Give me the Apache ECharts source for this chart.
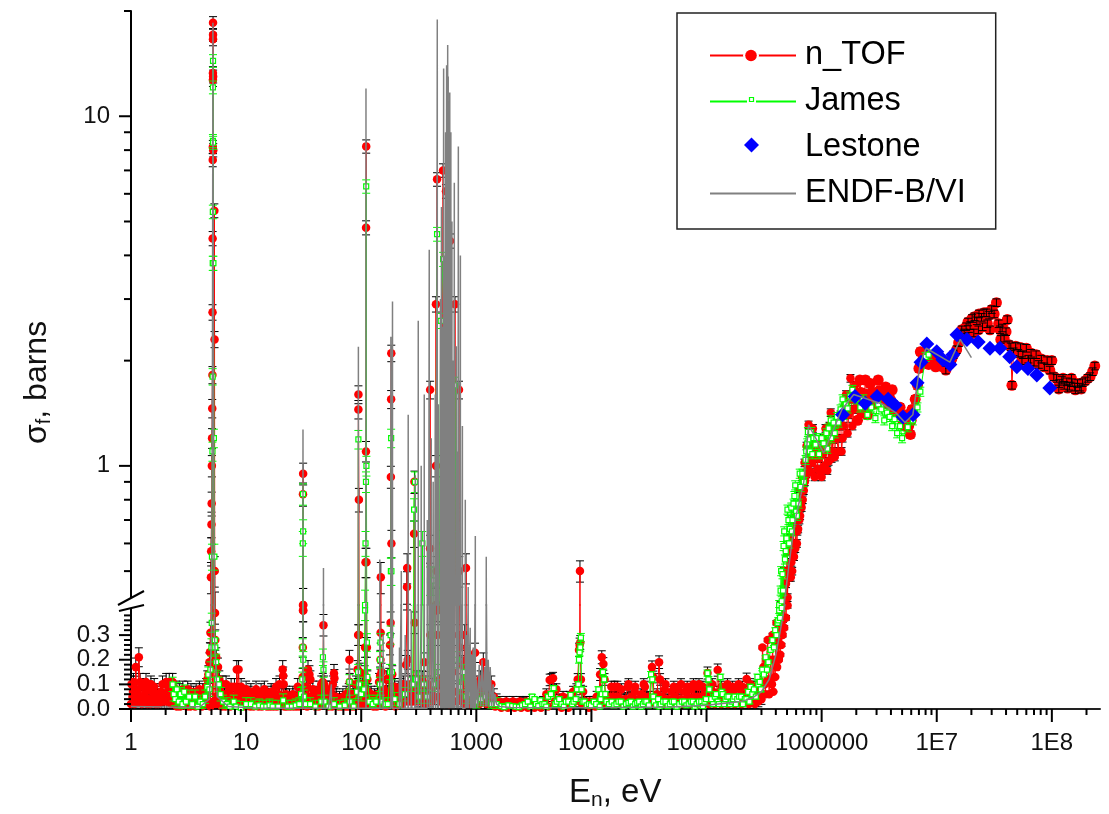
<!DOCTYPE html>
<html>
<head>
<meta charset="utf-8">
<title>Fission cross section</title>
<script src="https://cdn.jsdelivr.net/npm/echarts@6/dist/echarts.min.js"></script>
<style>
    html, body { margin: 0; padding: 0; background: #fff; }
    #chart { width: 1109px; height: 814px; }
</style>
</head>
<body>
<div id="chart"></div>
<script>
// values: [E in eV, sigma in barns]
var ntofBand = [
    [1,.02],[1.01,.1],[1.03,.05],[1.05,.11],[1.07,.02],[1.1,.17],[1.12,.08],[1.17,.21],[1.2,.11],[1.22,.03],[1.26,.09],[1.3,.05],[1.35,.11],[1.39,.02],[1.44,.08],[1.49,.1],[1.54,.04],[1.59,.09],[1.65,.02],[1.7,.06],[1.76,.03],[1.82,.07],[1.88,.1],[1.95,.03],[2.02,.11],[2.08,.06],[2.15,.11],[2.23,.02],[2.3,.11],[2.38,.05],[2.46,.08],[2.55,.02],[2.63,.07],[2.72,.04],[2.82,.08],[2.91,.02],[3.01,.06],[3.11,.08],[3.22,.03],[3.32,.07],[3.44,.05],[3.55,.02],[3.68,.07],[3.8,.04],[3.93,.08],[4.06,.02],[4.2,.07],[4.34,.05],[4.5,.09]
];
var ntofPeak5eV = [
    [4.6,.12],[4.7,.14],[4.8,.19],[4.85,.23],[4.9,.31],[4.95,.48],[4.97,.57],[5,.68],[5.02,.78],[5.04,1],[5.06,1.2],[5.08,1.46],[5.1,1.82],[5.11,2.75],[5.12,4.47],[5.13,7.5],[5.14,8.17],[5.15,12.7],[5.15,13.3],[5.16,16.6],[5.16,17.1],[5.16,18.5],[5.17,13],[5.18,8],[5.3,5.37],[5.32,2.3],[5.34,.5],[5.37,.39],[5.4,.28],[5.5,.21],[5.7,.17],[5.85,.12],[6.06,.03],[6.25,.1],[6.48,.06],[6.7,.1],[6.93,.02],[7.15,.07],[7.41,.09],[7.65,.04],[7.92,.09],[8.3,.16],[8.6,.16],[8.8,.04],[9.05,.09],[9.4,.06],[9.68,.02]
];
var ntofTo100 = [
    [10,.08],[10.4,.04],[10.7,.02],[11,.07],[11.4,.05],[11.8,.02],[12.2,.08],[12.6,.05],[13,.02],[13.5,.07],[13.9,.04],[14.4,.08],[14.9,.02],[15.4,.06],[15.9,.03],[16.5,.07],[17,.02],[17.6,.06],[18.2,.09],[18.8,.03],[19.5,.1],[20.8,.16],[21,.135],[21.2,.1],[21.8,.03],[22.3,.06],[23,.02],[23.8,.05],[24.6,.03],[25.5,.06],[26.3,.02],[27.2,.05],[28.1,.09],[29,.03],[30,.06],[30.5,.04],[31,.13],[31.1,.25],[31.2,.4],[31.2,.83],[31.3,.95],[31.4,.4],[31.6,.13],[32.5,.05],[33.3,.09],[34.5,.16],[35.5,.14],[36.2,.12],[37,.05],[38,.08],[39.3,.03],[40.6,.06],[42,.02],[43.4,.08],[45,.1],[46.4,.11],[47,.34],[47.5,.1],[48.6,.05],[49.6,.08],[51.3,.02],[53,.08],[55,.04],[56.7,.1],[58,.145],[58.5,.125],[60.6,.05],[62.6,.02],[64.8,.04],[67,.02],[69.3,.05],[71.6,.03],[74,.06],[76,.03],[78,.07],[79,.2],[79.5,.11],[82,.03],[84.7,.06],[87.5,.02],[90,.1],[93,.16],[94,.3],[94.5,1.45],[94.6,1.6],[95.5,.8],[96,.3],[97,.15],[98,.08]
];
var ntofTo1500 = [
    [100,.04],[103,.1],[105,.06],[107,.14],[108,.25],[109,.53],[110,1.1],[110.2,4.8],[110.5,8.2],[111,.53],[112,.25],[113,.12],[115,.07],[118,.03],[122,.06],[126,.02],[130,.05],[134,.03],[139,.06],[143,.11],[146,.135],[147,.2],[147.5,.31],[148,.48],[150,.15],[152,.05],[156,.08],[160,.03],[165,.12],[170,.05],[175,.13],[178,.26],[180,.35],[181,.93],[182,1.55],[182.5,2.1],[183,.6],[186,.14],[190,.05],[195,.09],[202,.03],[210,.08],[225,.05],[232,.1],[245,.18],[250,.45],[251,.51],[254,.2],[265,.07],[280,.1],[288,.64],[290,.9],[292,.35],[300,.08],[320,.1],[345,.04],[354,.19],[370,.05],[396,.58],[397,1.65],[399,.3],[420,.09],[445,.4],[446,2.9],[447,1],[452,.5],[456,6.6],[460,.3],[480,.12],[500,.4],[514,7],[520,.6],[545,6.1],[550,.9],[570,.2],[591,4.4],[600,.5],[625,.15],[653,2.9],[660,.7],[700,.3],[707,1.65],[712,.5],[720,.25],[750,.18],[790,.3],[813,.51],[820,.2],[860,.09],[905,.15],[975,.228],[990,.1],[1040,.07],[1090,.12],[1140,.08],[1150,.19],[1200,.09],[1270,.05],[1350,.1],[1420,.05],[1500,.03]
];
var ntofTo3e5 = [
    [1590,.03],[1700,.02],[1820,.03],[1950,.02],[2080,.03],[2230,.02],[2380,.03],[2550,.025],[2720,.03],[2910,.02],[3110,.03],[3320,.025],[3550,.02],[3800,.03],[4060,.06],[4340,.118],[4500,.12],[4640,.125],[4960,.08],[5310,.04],[5670,.05],[6060,.03],[6480,.05],[6930,.07],[7400,.08],[7600,.12],[7800,.24],[7900,.26],[7950,.5],[8000,.27],[8100,.12],[8470,.07],[9050,.03],[9680,.03],[10400,.03],[11100,.05],[11900,.14],[12300,.21],[12700,.183],[13000,.12],[13900,.05],[14900,.09],[15900,.09],[17000,.05],[18200,.08],[19500,.04],[20800,.09],[22300,.05],[23800,.07],[25500,.04],[27200,.06],[29100,.09],[31100,.05],[33600,.17],[34500,.13],[36000,.05],[38700,.19],[39500,.12],[41000,.05],[43400,.08],[46400,.04],[49600,.07],[53100,.05],[56700,.08],[60600,.04],[64800,.07],[69300,.05],[74100,.08],[79200,.05],[84700,.09],[90500,.04],[96800,.07],[102000,.146],[108000,.05],[114000,.07],[125000,.158],[130000,.07],[139000,.04],[149000,.08],[159000,.05],[170000,.07],[182000,.04],[195000,.08],[208000,.05],[223000,.122],[228000,.07],[238000,.05],[255000,.09],[272000,.05],[291000,.07]
];
var ntofRise = [
    [298000,.11],[306000,.25],[313000,.17],[320000,.1],[332000,.2],[340000,.28],[345000,.12],[360000,.2],[375000,.3],[385000,.2],[398000,.27],[405000,.35],[420000,.28],[430000,.33],[440000,.4],[450000,.33],[460000,.36],[470000,.5],[480000,.42],[490000,.46],[500000,.57],[510000,.5],[530000,.62],[545000,.53],[560000,.57],[570000,.7],[580000,.6],[600000,.72],[615000,.65],[630000,.75],[645000,.86],[660000,.78],[675000,.93],[690000,.85],[710000,1.02],[725000,.93],[740000,1.14],[755000,1.02],[770000,1.31],[790000,1.12],[810000,1.2],[830000,1.02],[850000,1.1],[885000,1.06],[920000,.98],[950000,1.05],[980000,.96],[1020000,1.08],[1060000,1],[1100000,1.15],[1150000,1.03],[1200000,1.42],[1240000,1.1],[1270000,1.19],[1330000,1.3],[1400000,1.1],[1460000,1.4],[1520000,1.2],[1600000,1.5],[1680000,1.24],[1780000,1.78],[1850000,1.3],[1950000,1.7],[2050000,1.35],[2150000,1.76],[2250000,1.42],[2400000,1.76],[2500000,1.4],[2650000,1.72],[2800000,1.5],[3100000,1.76],[3300000,1.55],[3600000,1.68],[3800000,1.5],[4100000,1.65],[4300000,1.42],[4800000,1.47],[5100000,1.32],[5500000,1.4],[5900000,1.23],[6100000,1.45],[6500000,1.55],[6800000,1.7],[7000000,1.9],[7200000,2.12]
];
var ntofHigh = [
    [7600000,2.02],[8000000,2.1],[8500000,1.95],[9200000,2.05],[9800000,1.92],[10400000,2],[11300000,1.92],[12000000,1.88],[12800000,1.95],[13500000,2.02],[14000000,2.08],[14900000,2.15],[15500000,2.25],[16000000,2.38],[16500000,2.45],[17300000,2.4],[18000000,2.5],[18700000,2.58],[19500000,2.52],[20300000,2.64],[21300000,2.67],[22300000,2.6],[23300000,2.72],[24500000,2.66],[25700000,2.74],[27000000,2.74],[28500000,2.7],[30000000,2.8],[31500000,2.72],[33000000,2.93],[34500000,2.55],[35500000,2.45],[37000000,2.48],[38500000,2.32],[40000000,2.42],[41000000,2.62],[42500000,2.22],[44000000,2.19],[45000000,1.7],[46500000,2.12],[48500000,2.2],[51000000,2.1],[53500000,2.18],[56000000,2.08],[60000000,2.17],[62500000,2.02],[66000000,2.1],[70000000,1.98],[73000000,2.08],[77000000,1.95],[81000000,2.02],[86000000,1.92],[91000000,2],[96000000,1.88],[100000000,2],[104000000,1.8],[110000000,1.78],[116000000,1.72],[122000000,1.76],[128000000,1.7],[135000000,1.74],[142000000,1.69],[150000000,1.73],[158000000,1.68],[167000000,1.72],[175000000,1.68],[185000000,1.73],[195000000,1.75],[205000000,1.78],[215000000,1.8],[226000000,1.86],[236000000,1.93]
];
// lower points of the dense n_TOF band, merged by energy below
var ntofFillTo10 = [
    [1.04,.07],[1.08,.04],[1.15,.06],[1.24,.02],[1.33,.07],[1.41,.04],[1.47,.02],[1.56,.07],[1.62,.05],[1.73,.02],[1.79,.045],[1.85,.03],[1.98,.06],[2.05,.03],[2.12,.08],[2.2,.05],[2.27,.08],[2.34,.02],[2.42,.03],[2.5,.01],[2.59,.04],[2.67,.01],[2.77,.05],[2.87,.03],[2.96,.05],[3.06,.01],[3.16,.04],[3.27,.01],[3.38,.03],[3.5,.06],[3.61,.01],[3.74,.04],[3.86,.02],[4,.05],[4.13,.01],[4.27,.04],[4.42,.02],[4.55,.04],[4.75,.02],[4.9,.01],[5.1,.02],[5.25,.03],[5.45,.02],[5.6,.05],[5.8,.02],[5.95,.07],[6.15,.01],[6.38,.04],[6.6,.01],[6.82,.05],[7.03,.04],[7.28,.01],[7.53,.05],[7.78,.02],[8.05,.05],[8.2,.02],[8.45,.07],[8.95,.02],[9.25,.03],[9.55,.04],[9.85,.01]
];
var ntofFillTo100 = [
    [10.2,.03],[10.55,.06],[10.85,.01],[11.2,.03],[11.6,.01],[12,.05],[12.4,.02],[12.8,.01],[13.2,.05],[13.7,.01],[14.2,.03],[14.65,.05],[15.2,.01],[15.65,.04],[16.2,.01],[16.8,.05],[17.3,.01],[17.9,.04],[18.5,.01],[19.1,.06],[19.8,.02],[20.4,.05],[21.5,.01],[22,.05],[22.6,.01],[23.4,.035],[24.2,.01],[25,.04],[25.9,.01],[26.8,.035],[27.6,.01],[28.5,.05],[29.5,.01],[30.2,.02],[32,.02],[32.9,.03],[33.9,.01],[35,.05],[36.6,.02],[37.5,.02],[38.6,.05],[39.9,.01],[41.3,.04],[42.7,.01],[44.2,.04],[45.7,.02],[48,.02],[50.4,.05],[52,.01],[54,.05],[55.8,.01],[57.5,.05],[59.5,.02],[61.6,.03],[63.7,.01],[65.9,.03],[68,.01],[70.4,.03],[72.8,.01],[75,.04],[77,.01],[80.5,.05],[83.3,.01],[86,.04],[88.7,.01],[91.5,.05],[96.5,.02],[99,.06]
];
var ntofFillTo1500 = [
    [101.5,.03],[104,.05],[106,.02],[109.5,.07],[112.5,.02],[116.5,.04],[120,.02],[124,.04],[128,.01],[132,.035],[136.5,.01],[141,.04],[144.5,.02],[149,.05],[154,.02],[158,.05],[162.5,.01],[167.5,.06],[172.5,.02],[177,.07],[184.5,.05],[188,.02],[192.5,.07],[198.5,.01],[206,.05],[214,.02],[220,.09],[228,.02],[238,.08],[257,.03],[270,.1],[275,.03],[285,.05],[296,.03],[305,.12],[313,.04],[330,.03],[338,.12],[350,.06],[362,.02],[378,.1],[388,.04],[408,.03],[432,.05],[470,.05],[490,.03],[530,.04],[560,.06],[580,.02],[610,.04],[640,.07],[680,.03],[730,.06],[770,.04],[800,.02],[840,.05],[880,.02],[930,.06],[950,.03],[1010,.04],[1065,.02],[1115,.05],[1175,.03],[1235,.02],[1310,.03],[1385,.02],[1460,.01]
];
var ntofFillTo3e5 = [
    [1650,.005],[1880,.005],[2150,.005],[2450,.005],[2800,.005],[3200,.005],[3650,.005],[4200,.01],[4800,.03],[5500,.005],[6300,.005],[7200,.03],[8300,.02],[9500,.005],
    [10800,.01],[11500,.02],[12000,.05],[13400,.02],[14400,.03],[15400,.05],[16400,.02],[16800,.09],[17600,.03],[18800,.02],[20100,.04],[21000,.1],[21500,.02],[23000,.03],[24000,.09],[24600,.02],[26300,.03],[28100,.02],[28500,.1],[30000,.04],[32300,.02],[35000,.02],[37200,.06],[40200,.03],[42000,.02],[44000,.1],[44800,.03],[48000,.02],[51300,.03],[52000,.09],[55000,.02],[58600,.03],[60000,.1],[62600,.02],[67000,.03],[68000,.09],[71600,.02],[76600,.03],[77000,.1],[81800,.02],[86000,.1],[87500,.05],[93000,.09],[93600,.02],[100000,.03],[105000,.02],[111000,.03],[112000,.1],[118000,.02],[122000,.05],[134000,.02],[135000,.09],[144000,.03],[152000,.1],[154000,.02],[164000,.03],[168000,.09],[176000,.02],[188000,.03],[190000,.1],[201000,.02],[205000,.09],[215000,.03],[233000,.02],[240000,.1],[246000,.03],[263000,.02],[265000,.09],[282000,.03]
];
var ntofFillRise = [
    [300000,.04],[325000,.06],[350000,.06],[370000,.1],[380000,.07],[395000,.13],[410000,.17],[425000,.2],[437000,.22],[447000,.26],[458000,.3],[473000,.33],[490000,.37],[506000,.42],[525000,.48],[540000,.48],[555000,.5],[575000,.55],[590000,.58],[610000,.6],[625000,.66],[640000,.7],[650000,.72],[670000,.76],[685000,.8],[700000,.85],[715000,.9],[735000,.95],[760000,.98],[780000,1.05],[800000,.96],[820000,1.2],[840000,1.28],[870000,.93],[900000,1.18],[930000,1.05],[965000,1.12],[1000000,.93],[1040000,1.2],[1080000,1.28],[1120000,.97],[1170000,1.3],[1220000,1.05],[1250000,1.3],[1300000,1.06],[1350000,1.2],[1420000,1.3],[1490000,1.1],[1550000,1.3],[1630000,1.6],[1720000,1.4],[1820000,1.55],[1900000,1.45],[2000000,1.6],[2100000,1.5],[2200000,1.62],[2320000,1.5],[2450000,1.6],[2580000,1.55],[2720000,1.62],[2950000,1.62],[3200000,1.64],[3450000,1.6],[3700000,1.55],[3950000,1.55],[4200000,1.5],[4550000,1.4],[5000000,1.4],[5300000,1.3],[5700000,1.3],[6000000,1.35]
];
var ntofFillHigh = [
    [19000000,2.35],[21000000,2.4],[23000000,2.45],[25000000,2.5],[27500000,2.55],[29000000,2.45],[36000000,2.3],[55000000,2],[65000000,1.98],[115000000,1.66],[125000000,1.78],[137000000,1.67],[148000000,1.78],[160000000,1.65],[180000000,1.66]
];
var jamesTo100 = [
    [2.3,.1],[2.35,.06],[2.42,.04],[2.5,.08],[2.6,.03],[2.7,.06],[2.8,.02],[2.9,.07],[3,.03],[3.2,.05],[3.4,.02],[3.6,.05],[3.8,.01],[4,.03],[4.2,.02],[4.4,.05],[4.6,.09],[4.7,.14],[4.8,.08],[4.9,.16],[5,.25],[5.03,.35],[5.05,.55],[5.1,1.1],[5.12,1.8],[5.13,3.8],[5.14,5.33],[5.15,8.5],[5.15,12.1],[5.16,14.4],[5.17,8.4],[5.2,3.8],[5.25,1.2],[5.3,.55],[5.35,.28],[5.4,.25],[5.5,.19],[5.6,.12],[5.8,.1],[6,.06],[6.3,.03],[6.8,.02],[7.2,.01],[7.8,.03],[8.2,.01],[9,.005],[10,.02],[11,.02],[12,.01],[13,.015],[14,.01],[15,.01],[16,.015],[17,.01],[19,.01],[21,.035],[23,.01],[25,.01],[27,.015],[29,.02],[30,.06],[30.8,.12],[31,.25],[31.1,.6],[31.2,.83],[31.3,.65],[31.4,.2],[31.8,.05],[33,.02],[36,.02],[40,.01],[45,.03],[46.5,.21],[47,.16],[48,.03],[52,.01],[58,.02],[65,.01],[72,.015],[79,.11],[79.5,.03],[86,.01],[92,.07],[94,.15],[94.5,1.19],[96,.1]
];
var jamesTo1500 = [
    [100,.06],[106,.08],[108,.4],[109,.6],[110,.9],[110.5,6.3],[111,1],[112,.27],[113,.13],[118,.03],[126,.02],[135,.03],[145,.1],[146,.2],[147,.27],[148,.03],[160,.02],[170,.02],[178,.15],[180,.3],[181,.5],[182,1.2],[183,.5],[185,.15],[195,.04],[215,.02],[240,.06],[280,.1],[288,.75],[293,.9],[300,.12],[320,.05],[340,.6],[350,.1],[375,.05],[396,.47],[420,.47],[430,.1],[456,4.6],[470,.15],[490,2.6],[515,3.9],[525,2.6],[540,.6],[565,.8],[600,.3],[619,.6],[653,1.7],[680,.2],[720,.09],[770,.15],[820,.05],[900,.06],[1000,.03],[1100,.04],[1200,.05],[1350,.02],[1500,.02]
];
var jamesTo1e5 = [
    [1650,.012],[1900,.015],[2200,.01],[2500,.015],[2800,.03],[3050,.05],[3300,.02],[3600,.035],[3900,.02],[4200,.05],[4700,.085],[5000,.03],[5500,.02],[6000,.03],[6600,.057],[7000,.03],[7500,.08],[7800,.2],[7900,.23],[8000,.25],[8100,.29],[8200,.08],[8700,.03],[9500,.02],[10500,.03],[11500,.08],[12000,.04],[12600,.15],[12900,.12],[13500,.03],[15000,.03],[16500,.02],[18000,.03],[20000,.02],[22000,.03],[24000,.02],[26000,.03],[28000,.02],[30000,.03],[33000,.14],[33800,.12],[35000,.03],[38000,.04],[40000,.02],[44000,.03],[48000,.02],[52000,.03],[58000,.02],[64000,.03],[70000,.02],[76000,.03],[82000,.02],[90000,.03],[96000,.03]
];
var jamesRise = [
    [102000,.146],[104000,.12],[110000,.04],[118000,.05],[125000,.03],[132000,.13],[138000,.06],[146000,.04],[155000,.05],[165000,.03],[175000,.05],[185000,.04],[200000,.05],[215000,.04],[230000,.07],[241000,.09],[258000,.08],[277000,.13],[290000,.11],[305000,.16],[326000,.21],[345000,.19],[374000,.28],[395000,.32],[414000,.35],[428000,.4],[440000,.44],[450000,.41],[457000,.49],[467000,.59],[480000,.54],[495000,.62],[515000,.7],[530000,.66],[545000,.76],[558000,.7],[580000,.82],[600000,.74],[630000,.78],[656000,.87],[680000,.95],[725000,1.04],[750000,1.16],[770000,1.19],[830000,1.08],[885000,1.15],[950000,1.08],[1040000,1.16],[1100000,1.24],[1150000,1.28],[1210000,1.2],[1270000,1.33],[1360000,1.38],[1460000,1.45],[1570000,1.4],[1680000,1.46],[1850000,1.65],[2000000,1.55],[2170000,1.47],[2500000,1.4],[2930000,1.37],[3300000,1.45],[3700000,1.42],[4100000,1.3],[4530000,1.24],[5000000,1.2],[5600000,1.29],[6200000,1.35],[6800000,1.47],[7200000,1.63],[8000000,2.05],[8500000,2.08]
];
var jamesFill = [
    [1750,.008],[2050,.012],[2350,.008],[2650,.02],[2950,.01],[3200,.04],[3450,.012],[3750,.02],[4050,.01],[4450,.06],[4850,.02],[5250,.04],[5750,.01],[6300,.03],[6800,.02],[7300,.04],[7700,.1],[8400,.03],[9100,.015],[9900,.015],[11000,.02],[11800,.01],[12300,.06],[13200,.06],[14200,.02],[15800,.015],[17200,.03],[19000,.01],[21000,.025],[23000,.01],[25000,.025],[27000,.01],[29000,.03],[31500,.015],[34500,.05],[36500,.015],[39000,.01],[42000,.03],[46000,.012],[50000,.03],[55000,.01],[61000,.03],[67000,.015],[73000,.03],[79000,.01],[86000,.03],[93000,.012],[99000,.04],[106000,.08],[114000,.02],[121000,.06],[128000,.02],[135000,.07],[142000,.02],[150000,.05],[160000,.02],[170000,.04],[180000,.02],[192000,.05],[207000,.02],[222000,.04],[236000,.03],[250000,.06],[268000,.05],[282000,.1],[297000,.08],
    [315000,.14],[335000,.16],[360000,.24],[385000,.25],[405000,.3],[420000,.36],[435000,.37],[445000,.5],[462000,.44],[473000,.65],[488000,.57],[505000,.75],[522000,.6],[552000,.65],[570000,.78],[590000,.88],[610000,.72],[645000,.95],[700000,.9],[735000,1.1],[760000,1.25],[790000,1.1],[810000,1.25],[850000,1.2],[900000,1.2],[1000000,1.2],[1120000,1.12],[1200000,1.35],[1300000,1.24],[1400000,1.33],[1520000,1.55],[1620000,1.5],[1760000,1.58],[2300000,1.55],[2700000,1.47],[3100000,1.5],[3500000,1.35],[3900000,1.38],[4300000,1.36],[4800000,1.3]
];
var lestonePoints = [
    [1520000,1.4],[1950000,1.58],[2390000,1.51],[3030000,1.58],[3780000,1.55],[4350000,1.49],[5090000,1.38],[6230000,1.4],[6750000,1.73],[7300000,1.98],[8200000,2.23],[10000000,2.12],[11300000,2.01],[13000000,1.95],[13800000,2.08],[15000000,2.37],[18300000,2.3],[22900000,2.26],[29000000,2.17],[35400000,2.17],[43000000,2.05],[49600000,1.92],[62000000,1.9],[74000000,1.82],[96000000,1.67]
];
var endfTo1000 = [
    [1,.01],[2,.008],[3,.006],[4,.01],[4.8,.04],[5,.3],[5.1,2],[5.15,18.5],[5.2,2],[5.3,.3],[5.6,.05],[7,.01],[12,.004],[20,.003],[31.1,.003],[31.2,1.27],[31.3,.003],[46.9,.003],[47,.51],[47.1,.003],[52,.003],[55,.1],[55.2,.003],[78.9,.003],[79,.18],[79.1,.003],[94.4,.003],[94.5,2.19],[94.6,.003],[109.9,.003],[110,12],[110.1,.003],[144.9,.003],[145,.54],[145.1,.003],[154.9,.003],[155,.3],[155.1,.003],[180.9,.003],[181,2.34],[181.1,.003],[186.9,.003],[187,2.95],[187.1,.003],
    [214,.003],[215,.25],[216,.003],[222,.003],[223,.5],[224,.003],[240,.003],[241,.3],[242,.003],[255,.003],[256,1.4],[257,.003],[271,.003],[272,.4],[273,.003],[294,.003],[295,.94],[296,.003],[312,.003],[313,2.6],[314,.003],[331,.003],[332,1],[333,.003],[352,.003],[353,1.6],[354,.003],[374,.003],[375,.7],[376,.003],[389,.003],[390,4.15],[391,.003],[405,.003],[406,1.2],[407,.003],[421,.003],[422,.9],[423,.003],[439,.003],[440,1.6],[441,.003],[457,.003],[458,18.9],[459,.003],[467,.003],[468,1.5],[469,.003],[477,.01],[488,3],[489,.003],[497,.003],[498,5.5],[499,.003],[508,.003],[509,2.5],[510,.003],[519,.003],[520,13.7],[521,.003],[529,.003],[530,4],[531,.003],[540,.003],[541,9],[542,.003],[547,.003],[552,14],[553,.003],[557,.003],[558,12],[559,.003],[563,.003],[564,16],[565,.003],[569,.003],[570,13],[571,.003],[580,.003],[581,11],[582,.003],[587,.003],[588,11.7],[589,.003],[600,.003],[601,9],[602,.003],[613,.003],[614,5],[615,.003],[631,.003],[632,2],[633,.003],[643,.003],[644,6.45],[645,.003],[669,.003],[670,2.2],[671,.003],[683,.003],[684,1.1],[685,.003],[697,.003],[698,8.2],[699,.003],[726,.003],[727,4],[728,.003],[756,.003],[757,1.3],[758,.003],[801,.003],[802,.8],[803,.003],[825,.003],[826,.3],[827,.003],[849,.003],[850,.45],[851,.003],[884,.003],[885,.33],[886,.003],[910,.003],[911,.22],[912,.003],[939,.003],[940,.25],[941,.003],[960,.003],[961,.16],[962,.003],[979,.003],[980,.63],[981,.003]
];
var endfTo2e7 = [
    [1000,.12],[1030,.005],[1060,.18],[1090,.01],[1120,.2],[1150,.01],[1180,.17],[1210,.01],[1220,.55],[1240,.01],[1270,.2],[1300,.01],[1320,.17],[1360,.01],[1400,.1],[1430,.01],[1450,.06],[1500,.02],[1600,.01],[2000,.006],[10000,.005],[50000,.008],[100000,.015],[200000,.03],[250000,.045],[300000,.07],[350000,.12],[400000,.22],[450000,.35],[500000,.47],[550000,.6],[600000,.72],[700000,.9],[770000,1.31],[1040000,1.09],[1500000,1.45],[1900000,1.6],[3400000,1.5],[4400000,1.42],[5300000,1.33],[6200000,1.4],[7200000,1.97],[8100000,2.17],[13000000,1.98],[16000000,2.3],[20000000,2.04]
];

function byEnergy(a, b) { return a[0] - b[0]; }
var ntofPoints = [].concat(ntofBand, ntofPeak5eV, ntofTo100, ntofTo1500, ntofTo3e5, ntofRise, ntofHigh,
    ntofFillTo10, ntofFillTo100, ntofFillTo1500, ntofFillTo3e5, ntofFillRise, ntofFillHigh).sort(byEnergy);
var jamesPoints = [].concat(jamesTo100, jamesTo1500, jamesTo1e5, jamesRise, jamesFill).sort(byEnergy);
var endfPoints = [].concat(endfTo1000, endfTo2e7);

// size of the error bars per energy region
var ntofErrEdges = [1500, 300000, 1e9];
var ntofErrRel = [.04, .03, .025];
var ntofErrAbs = [.03, .02, 0];
var jamesErrEdges = [1500, 300000, 1e9];
var jamesErrRel = [.04, .03, .03];
var jamesErrAbs = [.025, .008, 0];
// above this energy the black error bars sit on top of the red markers
var ntofErrOnTopFrom = 12000000;

var xTickLabels = {1:'1',10:'10',100:'100',1000:'1000',10000:'10000',100000:'100000',1000000:'1000000',10000000:'1E7',100000000:'1E8'};
var xDecades = [1, 10, 100, 1000, 10000, 100000, 1000000, 10000000, 100000000];
var xMax = 2.62e8;
var yUpperMajor = [1, 10];
var yUpperMinor = [.5, .6, .7, .8, .9, 2, 3, 4, 5, 6, 7, 8, 9, 20];
var yLowerLabels = [0, .1, .2, .3];
var yLowerTicks = [0,.02,.04,.06,.08,.1,.12,.14,.16,.18,.2,.22,.24,.26,.28,.3,.32,.34,.36,.38];

var FONT = 'Liberation Sans';

function errBars(points, edges, rel, abs) {
    return points.map(function (p) {
        var i = 0;
        while (p[0] > edges[i]) i++;
        var e = rel[i] * p[1] + abs[i];
        return [p[0], p[1], Math.max(p[1] - e, .001), p[1] + e];
    });
}

function renderErr(color, capHalf) {
    return function (params, api) {
        var x = api.value(0);
        var a = api.coord([x, api.value(2)]);
        var b = api.coord([x, api.value(3)]);
        var st = { stroke: color, lineWidth: 1 };
        return {
            type: 'group',
            children: [
                { type: 'line', shape: { x1: a[0], y1: a[1], x2: b[0], y2: b[1] }, style: st },
                { type: 'line', shape: { x1: a[0] - capHalf, y1: a[1], x2: a[0] + capHalf, y2: a[1] }, style: st },
                { type: 'line', shape: { x1: b[0] - capHalf, y1: b[1], x2: b[0] + capHalf, y2: b[1] }, style: st }
            ]
        };
    };
}

function ntofSize(v) { return v[0] >= 2000000 ? 11 : 8.5; }

var ntofErr = errBars(ntofPoints, ntofErrEdges, ntofErrRel, ntofErrAbs);
var ntofErrUnder = ntofErr.filter(function (d) { return d[0] < ntofErrOnTopFrom; });
var ntofErrOver = ntofErr.filter(function (d) { return d[0] >= ntofErrOnTopFrom; });
var jamesErr = errBars(jamesPoints, jamesErrEdges, jamesErrRel, jamesErrAbs);

var series = [];
[0, 1].forEach(function (g) {
    var ax = { xAxisIndex: g, yAxisIndex: g };
    series.push(Object.assign({
        type: 'custom', name: 'ntofErrUnder', data: ntofErrUnder, z: 1, clip: true, encode: { x: 0, y: 1 }, renderItem: renderErr('#000', 4)
    }, ax));
    series.push(Object.assign({
        name: 'n_TOF', type: 'line', data: ntofPoints, z: 2, symbol: 'circle', symbolSize: ntofSize,
        showSymbol: true, showAllSymbol: true, lineStyle: { color: '#ff0000', width: 1 }, itemStyle: { color: '#ff0000' }
    }, ax));
    series.push(Object.assign({
        type: 'custom', name: 'ntofErrOver', data: ntofErrOver, z: 3, clip: true, encode: { x: 0, y: 1 }, renderItem: renderErr('#000', 4)
    }, ax));
    series.push(Object.assign({
        type: 'custom', name: 'jamesErr', data: jamesErr, z: 4, clip: true, encode: { x: 0, y: 1 }, renderItem: renderErr('#00ff00', 4)
    }, ax));
    series.push(Object.assign({
        name: 'James', type: 'line', data: jamesPoints, z: 4, symbol: 'rect', symbolSize: 5,
        showSymbol: true, showAllSymbol: true, lineStyle: { color: '#00ff00', width: 1 },
        itemStyle: { color: '#fff', borderColor: '#00ff00', borderWidth: 1.2 }
    }, ax));
    series.push(Object.assign({
        name: 'Lestone', type: 'line', data: lestonePoints, z: 5, symbol: 'diamond', symbolSize: 15,
        showSymbol: true, showAllSymbol: true, lineStyle: { width: 0, opacity: 0 }, itemStyle: { color: '#0000ff' }
    }, ax));
    series.push(Object.assign({
        name: 'ENDF-B/VI', type: 'line', data: endfPoints, z: 6, symbol: 'none', showSymbol: false,
        lineStyle: { color: '#808080', width: 1.5 }, itemStyle: { color: '#808080' }
    }, ax));
});

// axis ticks, placed through the axis scales
function xTickData() {
    var out = [];
    xDecades.forEach(function (d) {
        [1, 2, 3, 4, 5, 6, 7, 8, 9].forEach(function (m) {
            if (d * m <= xMax) out.push([d * m, 0, m === 1 ? 13 : 6]);
        });
    });
    return out;
}
function renderXTick(params, api) {
    var p = api.coord([api.value(0), api.value(1)]);
    return { type: 'line', shape: { x1: p[0], y1: p[1], x2: p[0], y2: p[1] + api.value(2) }, style: { stroke: '#000', lineWidth: 2 } };
}
function renderYTick(params, api) {
    var p = api.coord([api.value(0), api.value(1)]);
    return { type: 'line', shape: { x1: p[0], y1: p[1], x2: p[0] - api.value(2), y2: p[1] }, style: { stroke: '#000', lineWidth: 2 } };
}
series.push({ type: 'custom', name: 'xTicks', xAxisIndex: 1, yAxisIndex: 1, data: xTickData(), encode: { x: 0, y: 1 }, z: 8, renderItem: renderXTick });
series.push({
    type: 'custom', name: 'yTicksUpper', xAxisIndex: 0, yAxisIndex: 0, encode: { x: 0, y: 1 }, z: 8, renderItem: renderYTick,
    data: yUpperMajor.map(function (v) { return [1, v, 12]; }).concat(yUpperMinor.map(function (v) { return [1, v, 7]; }))
});
series.push({
    type: 'custom', name: 'yTicksLower', xAxisIndex: 1, yAxisIndex: 1, encode: { x: 0, y: 1 }, z: 8, renderItem: renderYTick,
    data: yLowerTicks.map(function (v) { return [1, v, yLowerLabels.indexOf(v) >= 0 ? 12 : 7]; })
});

var hideIcon = { opacity: 0 };
var chart = echarts.init(document.getElementById('chart'));
chart.setOption({
    animation: false,
    backgroundColor: '#fff',
    textStyle: { fontFamily: FONT },
    grid: [
        { left: 131, right: 9, top: 11, height: 594 },
        { left: 131, right: 9, top: 605, height: 104 }
    ],
    legend: {
        data: [
            { name: 'n_TOF', itemStyle: hideIcon },
            { name: 'James', itemStyle: hideIcon },
            { name: 'Lestone', itemStyle: hideIcon },
            { name: 'ENDF-B/VI', itemStyle: hideIcon }
        ],
        orient: 'vertical',
        left: 677,
        top: 13,
        padding: [26, 30, 19, 32],
        itemWidth: 86,
        itemHeight: 14,
        itemGap: 13,
        backgroundColor: '#fff',
        borderColor: '#222',
        borderWidth: 1.5,
        selectedMode: false,
        textStyle: { fontFamily: FONT, fontSize: 32.5, color: '#000', padding: [0, 0, 0, 4] }
    },
    xAxis: [
        { type: 'log', gridIndex: 0, min: 1, max: xMax, logBase: 10, axisLine: { show: false }, axisTick: { show: false }, axisLabel: { show: false }, splitLine: { show: false } },
        {
            type: 'log', gridIndex: 1, min: 1, max: xMax, logBase: 10, interval: 1,
            axisLine: { onZero: false, lineStyle: { color: '#222', width: 2 } },
            axisTick: { show: false }, splitLine: { show: false }, minorTick: { show: false },
            axisLabel: {
                margin: 22, fontFamily: FONT, fontSize: 24, color: '#111', showMaxLabel: false,
                formatter: function (v) { return xTickLabels[Math.round(v)] || ''; }
            }
        }
    ],
    yAxis: [
        {
            type: 'log', gridIndex: 0, min: .4, max: 20, logBase: 10,
            axisLine: { show: true, onZero: false, lineStyle: { color: '#000', width: 2 } },
            axisTick: { show: false }, splitLine: { show: false },
            axisLabel: {
                margin: 21, fontFamily: FONT, fontSize: 24, color: '#111', customValues: yUpperMajor,
                formatter: function (v) { return String(Math.round(v)); }
            }
        },
        {
            type: 'value', gridIndex: 1, min: 0, max: .4222, interval: .1,
            axisLine: { show: true, onZero: false, lineStyle: { color: '#000', width: 2 } },
            axisTick: { show: false }, splitLine: { show: false },
            axisLabel: {
                margin: 21, fontFamily: FONT, fontSize: 24, color: '#111', customValues: yLowerLabels,
                formatter: function (v) { return v.toFixed(1); }
            }
        }
    ],
    graphic: [
        { type: 'rect', z: 20, shape: { x: 122, y: 598, width: 18, height: 10 }, style: { fill: '#fff' } },
        { type: 'line', z: 21, shape: { x1: 118, y1: 605, x2: 144, y2: 591 }, style: { stroke: '#000', lineWidth: 2 } },
        { type: 'line', z: 21, shape: { x1: 119, y1: 611, x2: 144, y2: 605 }, style: { stroke: '#000', lineWidth: 2 } },
        {
            type: 'text', z: 21, x: 569, y: 774,
            style: {
                text: '{a|E}{s|n}{a|, eV}', fill: '#111', font: '33px "Liberation Sans"',
                rich: {
                    a: { fontFamily: FONT, fontSize: 33, fill: '#111' },
                    s: { fontFamily: FONT, fontSize: 21, fill: '#111', padding: [16, 0, 0, 0] }
                }
            }
        },
        {
            type: 'text', z: 21, x: 20, y: 444, rotation: Math.PI / 2,
            style: {
                text: '{a|σ}{s|f}{a|, barns}', fill: '#111', font: '32px "Liberation Sans"',
                rich: {
                    a: { fontFamily: FONT, fontSize: 32, fill: '#111' },
                    s: { fontFamily: FONT, fontSize: 20, fill: '#111', padding: [14, 0, 0, 0] }
                }
            }
        },
        // legend markers, sized as in the picture
        { type: 'circle', z: 30, shape: { cx: 751, cy: 55.5, r: 8 }, style: { fill: '#fff' } },
        { type: 'circle', z: 31, shape: { cx: 751, cy: 55.5, r: 5.8 }, style: { fill: '#ff0000' } },
        { type: 'rect', z: 30, shape: { x: 747, y: 96, width: 9, height: 8 }, style: { fill: '#fff' } },
        { type: 'rect', z: 31, shape: { x: 749.5, y: 97.5, width: 4, height: 4 }, style: { fill: '#fff', stroke: '#00ff00', lineWidth: 1.2 } },
        { type: 'polygon', z: 31, shape: { points: [[751.5, 137.5], [759, 145], [751.5, 152.5], [744, 145]] }, style: { fill: '#0000ff' } }
    ],
    series: series
});
</script>
</body>
</html>
